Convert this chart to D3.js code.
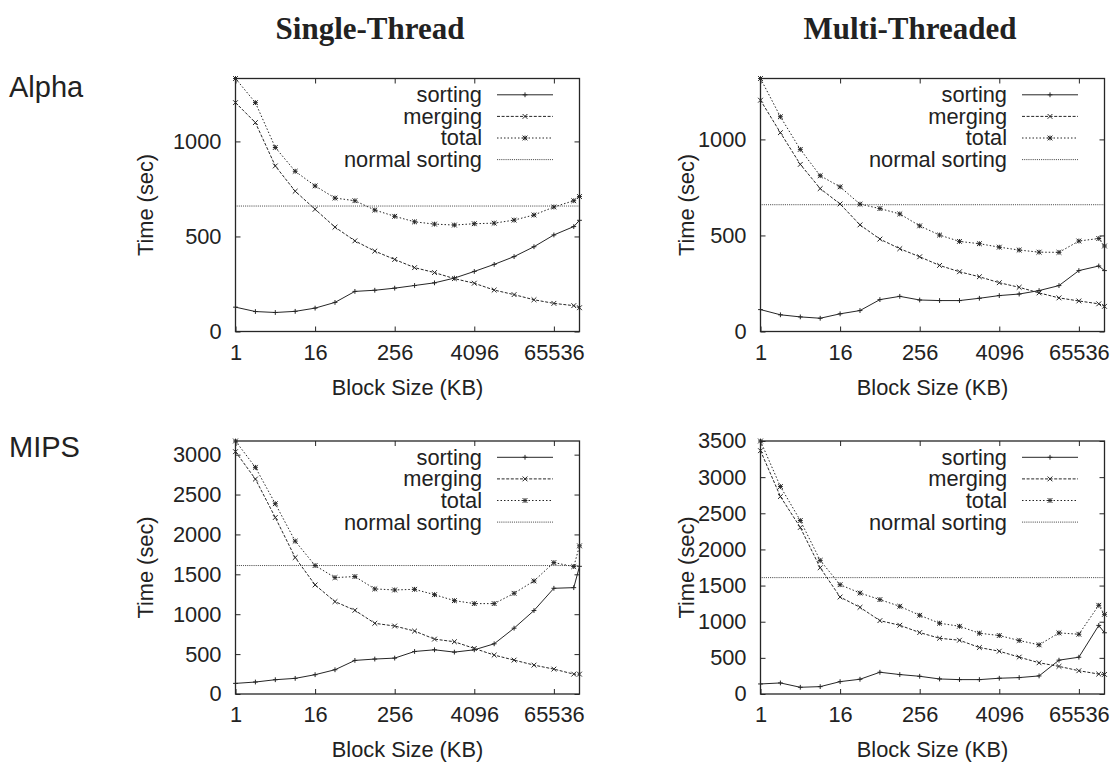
<!DOCTYPE html>
<html>
<head>
<meta charset="utf-8">
<script src="https://cdn.jsdelivr.net/npm/d3@7"></script>
<style>
    body { margin: 0; background: #fff; }
    svg text { font-family: "Liberation Sans", Arial, sans-serif; fill: #222; }
</style>
</head>
<body>
<svg id="chart" width="1118" height="767"></svg>
<script>
// block sizes in KB (last point is the whole file)
const blockSizes = [1, 2, 4, 8, 16, 32, 64, 128, 256, 512, 1024, 2048, 4096, 8192, 16384, 32768, 65536, 131072, 160000];
const xTicks = [1, 16, 256, 4096, 65536];

const columnTitles = ['Single-Thread', 'Multi-Threaded'];
const rowTitles = ['Alpha', 'MIPS'];
const seriesNames = ['sorting', 'merging', 'total', 'normal sorting'];

// Alpha, single thread
const alphaSingleSorting = [128, 105, 100, 106, 123, 153, 211, 217, 228, 242, 256, 281, 316, 353, 394, 446, 508, 552, 585];
const alphaSingleMerging = [1204, 1099, 871, 738, 643, 549, 477, 423, 379, 336, 310, 278, 254, 218, 194, 167, 148, 136, 125];
const alphaSingleTotal = [1331, 1204, 968, 843, 766, 702, 688, 639, 606, 577, 565, 560, 567, 570, 586, 613, 655, 688, 710];

// Alpha, multi threaded
const alphaMultiSorting = [114, 87, 76, 69, 92, 109, 166, 183, 164, 161, 161, 173, 187, 195, 213, 239, 317, 341, 317];
const alphaMultiMerging = [1204, 1035, 870, 744, 664, 555, 481, 431, 389, 344, 311, 285, 254, 230, 201, 175, 159, 144, 131];
const alphaMultiTotal = [1317, 1118, 948, 811, 753, 663, 640, 612, 550, 502, 469, 457, 439, 424, 413, 412, 471, 484, 445];

// MIPS, single thread
const mipsSingleSorting = [133, 150, 179, 196, 242, 304, 421, 438, 450, 533, 554, 525, 554, 629, 825, 1046, 1325, 1333, 1600];
const mipsSingleMerging = [3037, 2694, 2212, 1710, 1367, 1158, 1049, 886, 852, 789, 688, 655, 571, 488, 425, 362, 312, 249, 249];
const mipsSingleTotal = [3171, 2841, 2385, 1916, 1610, 1459, 1472, 1317, 1304, 1312, 1245, 1170, 1133, 1133, 1262, 1417, 1647, 1597, 1857];

// MIPS, multi threaded
const mipsMultiSorting = [139, 153, 93, 102, 171, 204, 301, 269, 245, 208, 199, 199, 218, 227, 250, 468, 509, 949, 847];
const mipsMultiMerging = [3366, 2732, 2304, 1747, 1342, 1199, 1015, 951, 850, 771, 744, 643, 592, 510, 432, 382, 322, 276, 271];
const mipsMultiTotal = [3500, 2870, 2400, 1848, 1512, 1397, 1306, 1213, 1089, 979, 937, 841, 809, 740, 680, 845, 827, 1227, 1102];

// single-pass sort time
const alphaNormalSorting = 660;
const mipsNormalSorting = 1610;

const alphaYTicks = [0, 500, 1000];
const mipsSingleYTicks = [0, 500, 1000, 1500, 2000, 2500, 3000];
const mipsMultiYTicks = [0, 500, 1000, 1500, 2000, 2500, 3000, 3500];

const panels = [
    { left: 235.5, top: 78.5, labelX: 145, series: [alphaSingleSorting, alphaSingleMerging, alphaSingleTotal], normal: alphaNormalSorting, yTicks: alphaYTicks },
    { left: 760.5, top: 78.5, labelX: 686, series: [alphaMultiSorting, alphaMultiMerging, alphaMultiTotal], normal: alphaNormalSorting, yTicks: alphaYTicks },
    { left: 235.5, top: 441, labelX: 145, series: [mipsSingleSorting, mipsSingleMerging, mipsSingleTotal], normal: mipsNormalSorting, yTicks: mipsSingleYTicks },
    { left: 760.5, top: 441, labelX: 686, series: [mipsMultiSorting, mipsMultiMerging, mipsMultiTotal], normal: mipsNormalSorting, yTicks: mipsMultiYTicks }
];

const width = 344;
const height = 253;
const ink = '#262626';
const fontSize = '21.8px';
const styles = [
    { dash: null, marker: 'plus' },
    { dash: '3,1.6', marker: 'cross' },
    { dash: '1.5,2', marker: 'star' },
    { dash: '0.8,1.1', marker: null }
];

function markerPath(type, s) {
    const plus = `M${-s},0H${s}M0,${-s}V${s}`;
    const cross = `M${-s},${-s}L${s},${s}M${-s},${s}L${s},${-s}`;
    if (type === 'plus') return plus;
    if (type === 'cross') return cross;
    return plus + cross;
}

const svg = d3.select('#chart');

// column and row titles
svg.selectAll('.col-title')
    .data(columnTitles)
    .enter()
    .append('text')
    .attr('x', (d, i) => [370, 910][i])
    .attr('y', 39)
    .attr('text-anchor', 'middle')
    .style('font-family', '"Liberation Serif", "Times New Roman", serif')
    .style('font-weight', 'bold')
    .style('font-size', '31px')
    .text(d => d);

svg.selectAll('.row-title')
    .data(rowTitles)
    .enter()
    .append('text')
    .attr('x', 9)
    .attr('y', (d, i) => [97, 457][i])
    .style('font-size', '29px')
    .text(d => d);

panels.forEach(p => {
    const g = svg.append('g').attr('transform', `translate(${p.left},${p.top})`);

    const x = d3.scaleLog().base(2)
        .domain(d3.extent(blockSizes))
        .range([0, width]);

    const yMax = d3.max(p.series.flat());
    const y = d3.scaleLinear()
        .domain([0, yMax])
        .range([height, 0]);

    // axes, gnuplot style: ticks inside on all four sides
    const bottom = g.append('g')
        .attr('transform', `translate(0,${height})`)
        .call(d3.axisBottom(x).tickValues(xTicks).tickFormat(d3.format('d')).tickSize(-5).tickPadding(13));
    const left = g.append('g')
        .call(d3.axisLeft(y).tickValues(p.yTicks).tickFormat(d3.format('d')).tickSize(-5).tickPadding(14));
    const top = g.append('g')
        .call(d3.axisTop(x).tickValues(xTicks).tickSize(-5).tickFormat(''));
    const right = g.append('g')
        .attr('transform', `translate(${width},0)`)
        .call(d3.axisRight(y).tickValues(p.yTicks).tickSize(-5).tickFormat(''));

    [bottom, left, top, right].forEach(a => {
        a.select('.domain').remove();
        a.selectAll('line').attr('stroke', ink);
        a.selectAll('text').style('font-size', fontSize).attr('fill', ink);
    });

    g.append('rect')
        .attr('width', width)
        .attr('height', height)
        .attr('fill', 'none')
        .attr('stroke', ink)
        .attr('stroke-width', 1.3);

    // normal sorting reference line
    g.append('line')
        .attr('x1', 0)
        .attr('x2', width)
        .attr('y1', y(p.normal))
        .attr('y2', y(p.normal))
        .attr('stroke', ink)
        .attr('stroke-width', 1)
        .attr('stroke-dasharray', styles[3].dash);

    const line = d3.line()
        .x((d, i) => x(blockSizes[i]))
        .y(d => y(d));

    p.series.forEach((values, si) => {
        g.append('path')
            .datum(values)
            .attr('fill', 'none')
            .attr('stroke', ink)
            .attr('stroke-width', 1)
            .attr('stroke-dasharray', styles[si].dash)
            .attr('d', line);

        g.selectAll(null)
            .data(values)
            .enter()
            .append('path')
            .attr('transform', (d, i) => `translate(${x(blockSizes[i])},${y(d)})`)
            .attr('d', markerPath(styles[si].marker, 2.4))
            .attr('fill', 'none')
            .attr('stroke', ink)
            .attr('stroke-width', 1);
    });

    // legend
    const legend = g.selectAll('.legend')
        .data(seriesNames)
        .enter()
        .append('g')
        .attr('transform', (d, i) => `translate(${width},${16.3 + i * 21.6})`);

    legend.append('text')
        .attr('x', -97.5)
        .attr('dy', '0.34em')
        .attr('text-anchor', 'end')
        .style('font-size', fontSize)
        .text(d => d);

    legend.append('line')
        .attr('x1', -82.5)
        .attr('x2', -26.5)
        .attr('stroke', ink)
        .attr('stroke-width', 1)
        .attr('stroke-dasharray', (d, i) => styles[i].dash);

    legend.filter((d, i) => styles[i].marker)
        .append('path')
        .attr('transform', 'translate(-54.5,0)')
        .attr('d', (d, i) => markerPath(styles[i].marker, 2.4))
        .attr('fill', 'none')
        .attr('stroke', ink)
        .attr('stroke-width', 1);

    // axis titles
    g.append('text')
        .attr('transform', `translate(${p.labelX - p.left},${height / 2}) rotate(-90)`)
        .attr('dy', '0.35em')
        .attr('text-anchor', 'middle')
        .style('font-size', fontSize)
        .text('Time (sec)');

    g.append('text')
        .attr('x', width / 2)
        .attr('y', height + 63)
        .attr('text-anchor', 'middle')
        .style('font-size', fontSize)
        .text('Block Size (KB)');
});
</script>
</body>
</html>
